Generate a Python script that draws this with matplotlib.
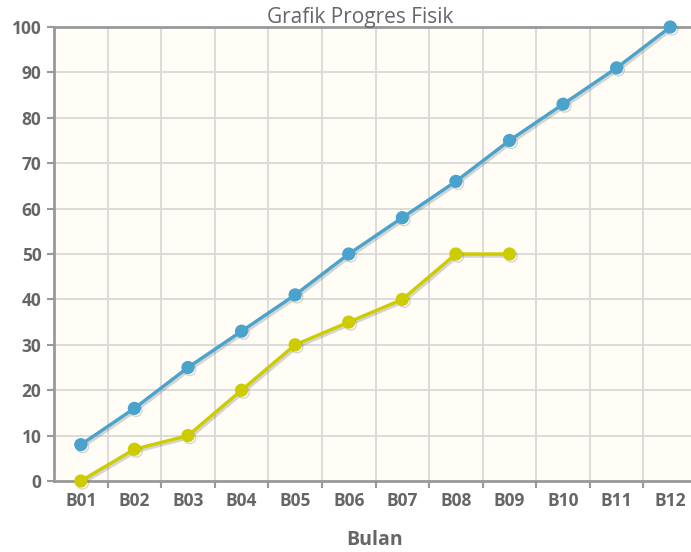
import numpy as np
import matplotlib
matplotlib.use("Agg")
import matplotlib.pyplot as plt
import matplotlib.patheffects as pe

# data
bulan = ["B01", "B02", "B03", "B04", "B05", "B06",
         "B07", "B08", "B09", "B10", "B11", "B12"]
rencana = [8, 16, 25, 33, 41, 50, 58, 66, 75, 83, 91, 100]
realisasi = [0, 7, 10, 20, 30, 35, 40, 50, 50]

plt.rcParams["font.family"] = ["Open Sans", "DejaVu Sans"]

W, H = 691, 552
fig = plt.figure(figsize=(W / 100, H / 100), dpi=100)
fig.patch.set_facecolor("white")

left, right, top, bottom = 54, 697, 27, 481
ax = fig.add_axes([left / W, 1 - bottom / H,
                   (right - left) / W, (bottom - top) / H])
ax.set_facecolor("#fffdf6")

x_all = np.arange(len(bulan))
ax.set_xlim(-0.5, len(bulan) - 0.5)
ax.set_ylim(0, 100)

# grid
ax.set_yticks(np.arange(0, 101, 10))
ax.set_xticks(x_all)
ax.set_xticks(x_all[:-1] + 0.5, minor=True)
ax.grid(False)
for v in np.arange(10, 100, 10):
    ax.axhline(v, color="#d9d9d9", lw=1.3, zorder=0)
for v in x_all[:-1] + 0.5:
    ax.axvline(v, color="#d9d9d9", lw=1.3, zorder=0)

shadow = [pe.SimpleLineShadow(offset=(1.3, -1.5), shadow_color="#777777", alpha=0.3),
          pe.Normal()]

ax.plot(x_all, rencana, color="#4aa3cc", lw=2.4, marker="o", ms=8.5,
        clip_on=False, zorder=3, path_effects=shadow)
ax.plot(x_all[:len(realisasi)], realisasi, color="#cccc00", lw=2.4, marker="o",
        ms=8.5, clip_on=False, zorder=3, path_effects=shadow)

# spines
for s in ["left", "bottom", "top"]:
    ax.spines[s].set_color("#999999")
    ax.spines[s].set_linewidth(2)
ax.spines["right"].set_visible(False)

ax.tick_params(axis="y", which="major", length=5, width=1.5, color="#999999",
               labelsize=12.5, labelcolor="#666666", pad=4)
ax.tick_params(axis="x", which="major", length=0, labelsize=12.5,
               labelcolor="#666666", pad=8)
ax.tick_params(axis="x", which="minor", length=5, width=1.5, color="#999999")
ax.set_xticklabels(bulan, fontweight="bold")
for t in ax.get_yticklabels():
    t.set_fontweight("bold")

fig.text(360 / W, 1 - 18 / H, "Grafik Progres Fisik", ha="center", va="center",
         fontsize=15, color="#666666")
fig.text(375 / W, 1 - 540 / H, "Bulan", ha="center", va="center",
         fontsize=14, color="#666666", fontweight="bold")

fig.savefig("out.png", dpi=100)
